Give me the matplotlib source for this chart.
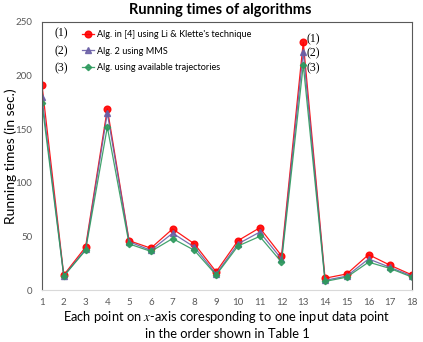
import numpy as np
import matplotlib
matplotlib.use("Agg")
import matplotlib.pyplot as plt

plt.rcParams['font.family'] = ['Lato', 'DejaVu Sans']
plt.rcParams['mathtext.fontset'] = 'stix'

# data
points = list(range(1, 19))
alg_li_klette = [191, 14, 40, 169, 46, 39, 57, 43, 17, 46, 58, 32, 231, 11, 15, 33, 23, 14]
alg_mms = [180, 13, 38, 165, 45, 37, 53, 40, 15, 43, 54, 29, 222, 9, 13, 29, 21, 13]
alg_traj = [174, 13, 37, 152, 43, 36, 48, 37, 14, 41, 50, 26, 210, 8, 12, 26, 20, 12]
labels = ["Alg. in [4] using Li & Klette's technique",
          "Alg. 2 using MMS",
          "Alg. using available trajectories"]

fig = plt.figure(figsize=(4.23, 3.42), dpi=100)
ax = fig.add_axes([0.0993, 0.152, 0.875, 0.784])

ax.plot(points, alg_li_klette, color='#ff0000', lw=0.9, marker='o', ms=4.8, label=labels[0], alpha=0.9)
ax.plot(points, alg_mms, color='#6a5fa6', lw=0.9, marker='^', ms=4.5, label=labels[1], alpha=0.9)
ax.plot(points, alg_traj, color='#2e9a5e', lw=0.9, marker='D', ms=3.2, label=labels[2], alpha=0.9)

ax.set_xlim(1, 18)
ax.set_ylim(0, 250)
ax.set_xticks(points)
ax.set_yticks(np.arange(0, 251, 50))
ax.tick_params(length=0, labelsize=7, colors='#595959')
ax.tick_params(axis='y', pad=7)
ax.tick_params(axis='x', pad=6)
for s in ['left', 'right', 'top']:
    ax.spines[s].set_color('#595959')
    ax.spines[s].set_linewidth(0.8)
ax.spines['bottom'].set_color('#d9d9d9')

fig.text(220 / 423, 1 - 10 / 342, "Running times of algorithms", fontsize=10.5,
         fontweight='bold', ha='center', va='center')
ax.set_ylabel("Running times (in sec.)", fontsize=10)
ax.yaxis.set_label_coords(-0.068, 0.5)
ax.set_xlabel("Each point on $x$-axis coresponding to one input data point\nin the order shown in Table 1",
              fontsize=9.3, labelpad=1, linespacing=1.3)

leg = ax.legend(loc='upper left', bbox_to_anchor=(0.085, 1.0), frameon=False, fontsize=6.6,
                handlelength=1.3, handletextpad=0.4, labelspacing=0.82)

for i, yy in enumerate([0.956, 0.892, 0.828]):
    ax.text(0.035, yy, "(%d)" % (i + 1), transform=ax.transAxes, fontsize=8.5,
            family='Liberation Serif', va='center')
ax.text(13.15, 234, "(1)", fontsize=8.5, family='Liberation Serif', va='center')
ax.text(13.15, 221, "(2)", fontsize=8.5, family='Liberation Serif', va='center')
ax.text(13.15, 207, "(3)", fontsize=8.5, family='Liberation Serif', va='center')

fig.savefig("out.png", dpi=100)
